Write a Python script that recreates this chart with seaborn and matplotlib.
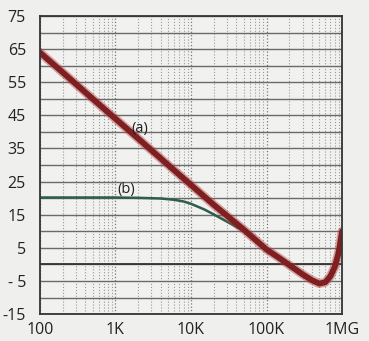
import numpy as np
import pandas as pd
import matplotlib
matplotlib.use('Agg')
import matplotlib.pyplot as plt
import seaborn as sns

# curve (a)
freq_a = [100, 200, 500, 1e3, 2e3, 5e3, 1e4, 2e4, 5e4, 1e5, 1.5e5, 2e5, 3e5, 4e5, 5e5, 6e5, 7e5, 8e5, 9e5, 1e6]
gain_a = [64, 58, 50, 44, 38, 30, 24, 18, 10.5, 4.5, 1.8, -0.2, -3.0, -4.8, -5.8, -5.4, -3.6, -0.8, 3.5, 10]

# curve (b)
freq_b = [100, 300, 1e3, 2e3, 4e3, 6e3, 8e3, 1e4, 1.5e4, 2e4, 3e4, 4e4, 5e4, 7e4, 1e5]
gain_b = [20.2, 20.2, 20.2, 20.1, 19.9, 19.5, 19.0, 18.3, 16.6, 15.1, 12.9, 11.3, 10.1, 7.6, 4.5]

x_ticks = [100, 1e3, 1e4, 1e5, 1e6]
x_labels = ['100', '1K', '10K', '100K', '1MG']
y_ticks = [-15, -5, 5, 15, 25, 35, 45, 55, 65, 75]
y_labels = ['-15', '- 5', '5', '15', '25', '35', '45', '55', '65', '75']

df_a = pd.DataFrame({'f': freq_a, 'dB': gain_a})
df_b = pd.DataFrame({'f': freq_b, 'dB': gain_b})

sns.set_style('white')
plt.rcParams['font.family'] = ['Open Sans', 'DejaVu Sans']

fig = plt.figure(figsize=(3.69, 3.41), dpi=100, facecolor='#efefed')
ax = fig.add_axes([0.108, 0.079, 0.819, 0.874])
ax.set_facecolor('#f1f1ef')

sns.lineplot(data=df_b, x='f', y='dB', ax=ax, color='#2b5e4c', linewidth=1.8)
sns.lineplot(data=df_a, x='f', y='dB', ax=ax, color='#b84545', linewidth=6.5, alpha=0.45)
sns.lineplot(data=df_a, x='f', y='dB', ax=ax, color='#7e1f22', linewidth=4.2)

ax.set_xscale('log')
ax.set_xlim(100, 1e6)
ax.set_ylim(-15, 75)
ax.set_xticks(x_ticks)
ax.set_xticklabels(x_labels)
ax.set_yticks(y_ticks)
ax.set_yticklabels(y_labels)
ax.set_yticks(np.arange(-10, 75, 10), minor=True)
ax.set_xlabel('')
ax.set_ylabel('')

ax.grid(which='both', axis='y', color='#6a6a6a', linewidth=1.0, linestyle='-')
ax.axhline(0, color='#333333', linewidth=1.3, zorder=1)
ax.grid(which='major', axis='x', color='#777777', linewidth=0.9, linestyle=':')
ax.grid(which='minor', axis='x', color='#9a9a9a', linewidth=0.8, linestyle=':')
ax.set_axisbelow(True)

ax.tick_params(axis='both', which='both', direction='in', length=3, color='#444444',
               labelsize=11.5, labelcolor='#222222')
ax.tick_params(axis='y', which='both', length=0, pad=10)
ax.tick_params(axis='x', which='major', pad=6)
for s in ax.spines.values():
    s.set_color('#333333')
    s.set_linewidth(1.3)

ax.text(2.1e3, 41, '(a)', fontsize=10.5, ha='center', va='center', color='#222222')
ax.text(1.4e3, 22.5, '(b)', fontsize=10.5, ha='center', va='center', color='#222222')

fig.savefig('out.png', dpi=100, facecolor=fig.get_facecolor())
